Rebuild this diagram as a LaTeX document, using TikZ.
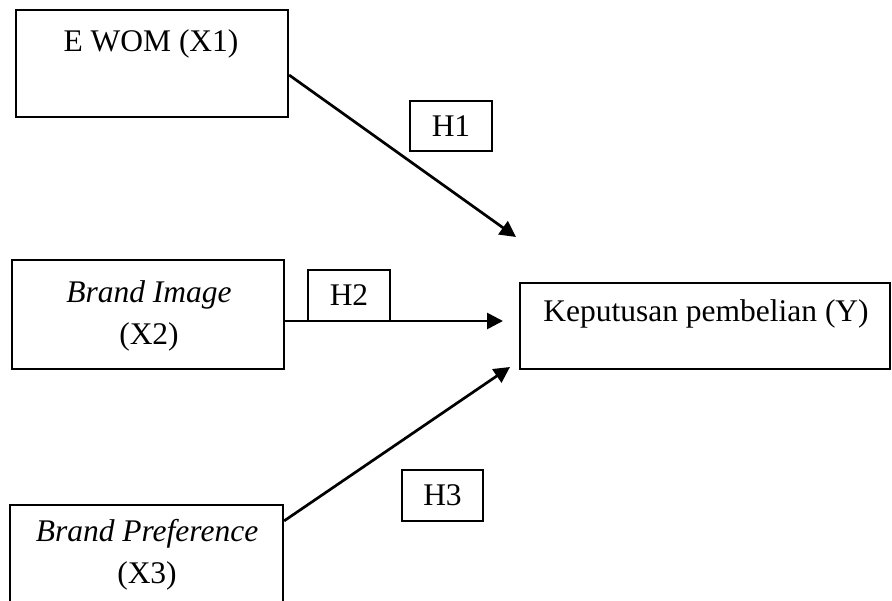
\documentclass[tikz,border=0pt]{standalone}
\usepackage{fontspec}
\setmainfont{Liberation Serif}
\usetikzlibrary{arrows.meta,calc}
\begin{document}
\begin{tikzpicture}[x=1pt,y=-1pt,
  varbox/.style={draw=black,line width=2.2pt,rectangle,inner sep=0pt},
  hbox/.style={draw=black,line width=2.2pt,rectangle,inner sep=0pt,minimum width=82pt,minimum height=50pt,
    font=\fontsize{31.5}{42}\selectfont},
  txt/.style={inner sep=0pt,anchor=base,font=\fontsize{31.5}{42}\selectfont},
  conn/.style={line width=2.7pt,-{Triangle[length=16pt,width=16pt]}}]
\useasboundingbox (0,0) rectangle (892,601);
\clip (0,0) rectangle (892,601);
\node[varbox,minimum width=272pt,minimum height=107pt] (x1) at (152,63.5) {};
\node[varbox,minimum width=272pt,minimum height=109pt] (x2) at (148,314.5) {};
\node[varbox,minimum width=273pt,minimum height=109pt] (x3) at (146.5,559.5) {};
\node[varbox,minimum width=370pt,minimum height=86pt] (y) at (705,326) {};
\node[txt] (x1t) at (151,51.7) {E WOM (X1)};
\node[txt] (x2a) at (149,302.5) {\textit{Brand Image}};
\node[txt] (x2b) at (149,344.5) {(X2)};
\node[txt] (x3a) at (147,541.7) {\textit{Brand Preference}};
\node[txt] (x3b) at (147,583.5) {(X3)};
\node[txt] (yt) at (706,321.5) {Keputusan pembelian (Y)};
\node[hbox] (h1) at (451,126) {H1};
\node[hbox,minimum height=51pt] (h2) at (349,295.5) {H2};
\node[hbox,minimum width=81pt,minimum height=51pt] (h3) at (442.5,495.5) {H3};
\coordinate (e1) at (516,237);
\coordinate (e2) at (503,321);
\coordinate (e3) at (510,367);
\draw[conn] ($(x1.east)+(0,11.5)$) -- (e1);
\draw[conn] ($(x2.east)+(0,6.5)$) -- (e2);
\draw[conn] ($(x3.north east)+(0,17)$) -- (e3);
\end{tikzpicture}
\end{document}
